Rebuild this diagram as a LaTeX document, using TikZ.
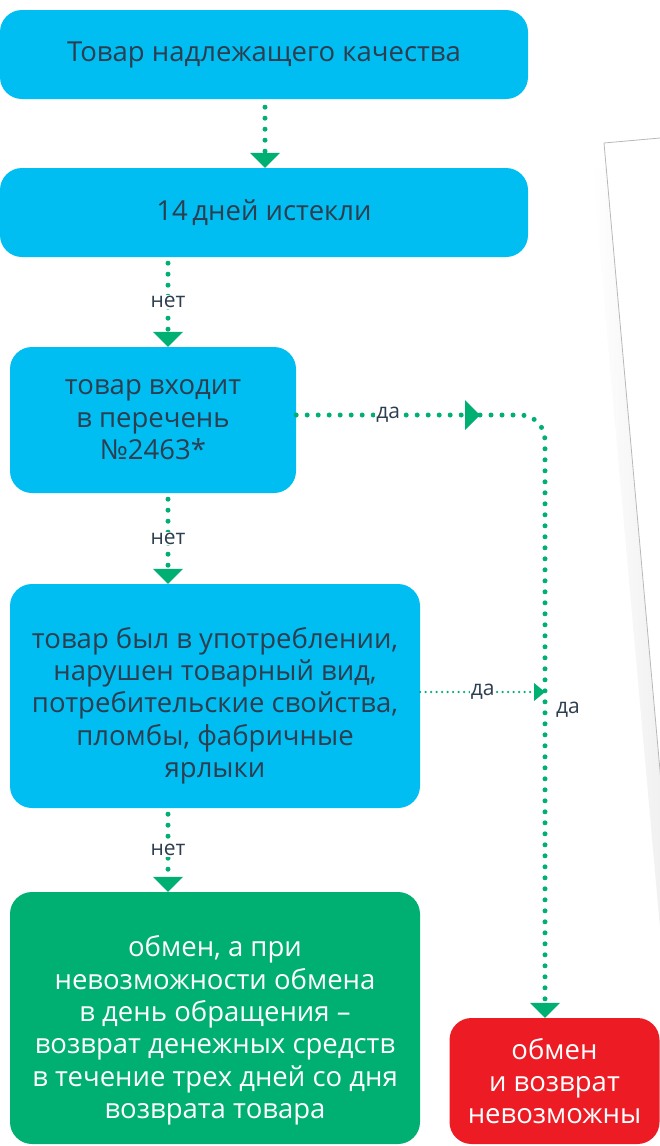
\documentclass[tikz,border=0pt]{standalone}
\usepackage{fontspec}
\setmainfont{Open Sans}
\usetikzlibrary{arrows.meta}
\definecolor{boxblue}{HTML}{00BDF2}
\definecolor{okgreen}{HTML}{00AF72}
\definecolor{nored}{HTML}{ED1C24}
\definecolor{ink}{HTML}{2C3E50}
\tikzset{
  font={\fontsize{27.5pt}{32.4pt}\selectfont},
  block/.style={rounded corners=22pt, align=center, inner sep=0pt},
  askbox/.style={block, fill=boxblue, text=ink},
  goodbox/.style={block, fill=okgreen, text=white},
  badbox/.style={block, fill=nored, text=white},
  flow/.style={draw=okgreen, line width=5pt, line cap=round,
    dash pattern=on 0pt off 11pt,
    -{Triangle[width=30pt,length=15pt,line width=0pt,fill=okgreen]}},
  thinflow/.style={draw=okgreen, line width=2.5pt, line cap=round,
    dash pattern=on 0pt off 5.5pt,
    -{Triangle[width=18pt,length=11pt,line width=0pt,fill=okgreen]}},
  tag/.style={fill=white, text=ink, inner sep=1pt,
    font={\fontsize{21pt}{23pt}\selectfont}}}

\begin{document}
\begin{tikzpicture}[x=1pt,y=-1pt]
\useasboundingbox (0,0) rectangle (660,1146);
\clip (0,0) rectangle (660,1146);
\begin{scope}[shift={(604,143)}, rotate=5.1]
\shade [left color=white, right color=black!9] (-14,25) rectangle (0,1100);
\fill [white] (0,0) rectangle (500,1100);
\draw [black!28, line width=0.8pt] (0,1100) -- (0,0) -- (500,0);
\end{scope}
\coordinate (spine) at (168,0);
\coordinate (rail) at (545,0);
\node [askbox, minimum width=528pt, minimum height=89pt] (top) at (264,54.5) {Товар надлежащего качества};
\node [askbox, minimum width=528pt, minimum height=89pt] (days) at (264,212.5) {14\,дней истекли};
\node [askbox, minimum width=286pt, minimum height=146pt] (list) at (153,420) {товар входит\\в перечень\\№2463*};
\node [askbox, text height=170pt, minimum width=410pt, minimum height=224pt] (used) at (215,696) {товар был в употреблении,\\нарушен товарный вид,\\потребительские свойства,\\пломбы, фабричные\\ярлыки};
\node [goodbox, text height=208pt, minimum width=410pt, minimum height=252pt] (swap) at (215,1018) {обмен, а при\\невозможности обмена\\в день обращения --\\возврат денежных средств\\в течение трех дней со дня\\возврата товара};
\node [badbox, minimum width=210pt, minimum height=126pt] (nope) at (554.5,1081) {обмен\\и возврат\\невозможны};
\coordinate (mid) at (480,415);
\draw [flow, shorten <=8pt] (top.south -| 265,0) -- (days.north -| 265,0);
\draw [flow, shorten <=6pt] (days.south -| spine) -- node [tag] (no1) {нет} (list.north -| spine);
\draw [flow, shorten <=6pt] (list.south -| spine) -- node [tag] (no2) {нет} (used.north -| spine);
\draw [flow, shorten <=6pt] (used.south -| spine) -- node [tag] (no3) {нет} (swap.north -| spine);
\draw [flow] (list.east |- mid) -- node [tag] (yes1) {да} (mid);
\draw [flow, -, rounded corners=25pt] (mid) -| ([yshift=15pt]nope.north -| rail);
\draw [flow, shorten <=12pt] ([yshift=18pt]nope.north -| rail) -- (nope.north -| rail);
\draw [thinflow] ([yshift=4pt]used.east) -- node [tag] (yes2) {да} ([yshift=4pt]used.east -| rail);
\node [tag, fill=none] (yes3) at (568,710) {да};
\end{tikzpicture}
\end{document}
